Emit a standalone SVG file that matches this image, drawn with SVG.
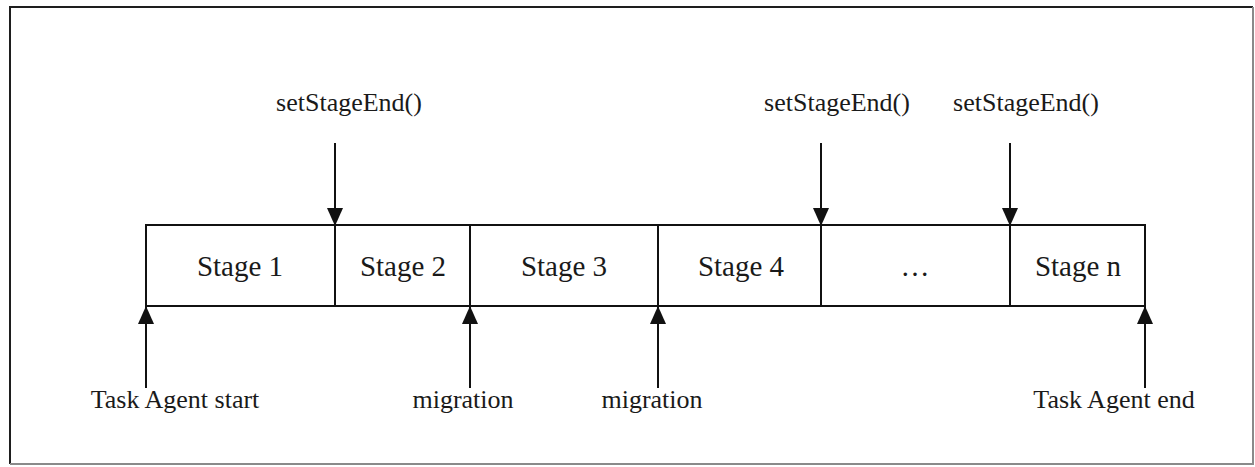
<svg xmlns="http://www.w3.org/2000/svg" width="1255" height="467" viewBox="0 0 1255 467">
  <style>
    .frame-dark { stroke: #1e1e1e; stroke-width: 2; fill: none; }
    .frame-light { stroke: #8a8a8a; stroke-width: 2; fill: none; }
    .cell { fill: #ffffff; stroke: #111; stroke-width: 2; }
    .conn { stroke: #111; stroke-width: 2; fill: none; }
    .lbl { font-family: "Liberation Serif", "Times New Roman", serif; font-size: 26px; fill: #1a1a1a; text-anchor: middle; }
    .stage { font-family: "Liberation Serif", "Times New Roman", serif; font-size: 29px; fill: #1a1a1a; text-anchor: middle; }
  </style>
  <defs>
    <marker id="arrowBig" markerWidth="18" markerHeight="16" refX="17" refY="8" orient="auto" markerUnits="userSpaceOnUse" viewBox="0 0 18 16">
      <path d="M0,0 L18,8 L0,16 Z" fill="#111"/>
    </marker>
  </defs>

  <rect width="1255" height="467" fill="#ffffff"/>
  <!-- outer frame: darker top/left, lighter right/bottom -->
  <path class="frame-dark" d="M10,464 L10,7 L1253,7"/>
  <path class="frame-light" d="M1253,7 L1253,464 L10,464"/>

  <!-- stage strip -->
  <g id="stage1"><rect class="cell" x="146" y="225" width="189" height="81"/><text class="stage" x="240" y="276">Stage 1</text></g>
  <g id="stage2"><rect class="cell" x="335" y="225" width="135" height="81"/><text class="stage" x="403" y="276">Stage 2</text></g>
  <g id="stage3"><rect class="cell" x="470" y="225" width="188" height="81"/><text class="stage" x="564" y="276">Stage 3</text></g>
  <g id="stage4"><rect class="cell" x="658" y="225" width="163" height="81"/><text class="stage" x="741" y="276">Stage 4</text></g>
  <g id="stageDots"><rect class="cell" x="821" y="225" width="189" height="81"/><text class="stage" x="915" y="276">…</text></g>
  <g id="stageN"><rect class="cell" x="1010" y="225" width="135" height="81"/><text class="stage" x="1078" y="276">Stage n</text></g>

  <!-- event labels -->
  <g id="callTop1"><text class="lbl" x="349" y="111">setStageEnd()</text></g>
  <g id="callTop2"><text class="lbl" x="837" y="111">setStageEnd()</text></g>
  <g id="callTop3"><text class="lbl" x="1026" y="111">setStageEnd()</text></g>
  <g id="evStart"><text class="lbl" x="175" y="408">Task Agent start</text></g>
  <g id="evMig1"><text class="lbl" x="463" y="408">migration</text></g>
  <g id="evMig2"><text class="lbl" x="652" y="408">migration</text></g>
  <g id="evEnd"><text class="lbl" x="1114" y="408">Task Agent end</text></g>

  <!-- connectors -->
  <g id="connectors">
    <line class="conn" x1="335" y1="143" x2="335" y2="225" marker-end="url(#arrowBig)"/>
    <line class="conn" x1="821" y1="143" x2="821" y2="225" marker-end="url(#arrowBig)"/>
    <line class="conn" x1="1010" y1="143" x2="1010" y2="225" marker-end="url(#arrowBig)"/>
    <line class="conn" x1="146" y1="388" x2="146" y2="307" marker-end="url(#arrowBig)"/>
    <line class="conn" x1="470" y1="388" x2="470" y2="307" marker-end="url(#arrowBig)"/>
    <line class="conn" x1="658" y1="388" x2="658" y2="307" marker-end="url(#arrowBig)"/>
    <line class="conn" x1="1145" y1="388" x2="1145" y2="307" marker-end="url(#arrowBig)"/>
  </g>
</svg>
